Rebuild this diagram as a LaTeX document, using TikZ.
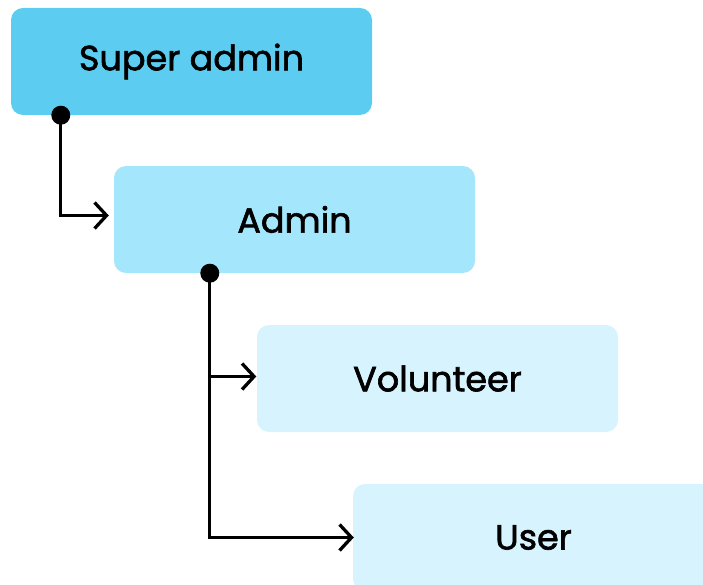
\documentclass[tikz,border=0pt]{standalone}
\usepackage{fontspec}
\newfontfamily\lblfont{Poppins}[FakeBold=1.8]
\usetikzlibrary{arrows.meta}
\definecolor{cSA}{HTML}{5CCDF1}
\definecolor{cAD}{HTML}{A4E7FD}
\definecolor{cVO}{HTML}{D7F4FE}
\tikzset{
  x=1pt,y=1pt,
  role/.style={rectangle, rounded corners=12pt, minimum width=361pt, minimum height=107pt, inner sep=0pt,
    font=\lblfont\fontsize{35}{42}\selectfont, text=black},
  conn/.style={line width=3.3pt, draw=black, -{Straight Barb[length=12pt,width=26pt,line width=3.3pt]}},
  dotmark/.style={fill=black, circle, inner sep=0pt, minimum size=19pt}
}
\begin{document}
\begin{tikzpicture}
\useasboundingbox (0,0) rectangle (703,584);
\clip (0,0) rectangle (703,584);
\node[role, fill=cSA] (sa) at (191.5,522.5) {Super admin};
\node[role, fill=cAD] (ad) at (294.5,364.5) {Admin};
\node[role, fill=cVO] (vo) at (437.5,205.5) {Volunteer};
\node[role, fill=cVO] (us) at (533.5,46.5) {User};
\coordinate (d1) at ([xshift=50pt]sa.south west);
\coordinate (d2) at ([xshift=96pt]ad.south west);
\draw[conn, shorten >=5pt] (d1) |- ([yshift=4pt]ad.west);
\draw[conn, shorten >=0.5pt] (d2) |- ([yshift=2pt]vo.west);
\draw[conn, shorten >=-1pt] (d2) |- (us.west);
\node[dotmark] (k1) at (d1) {};
\node[dotmark] (k2) at (d2) {};
\end{tikzpicture}
\end{document}
